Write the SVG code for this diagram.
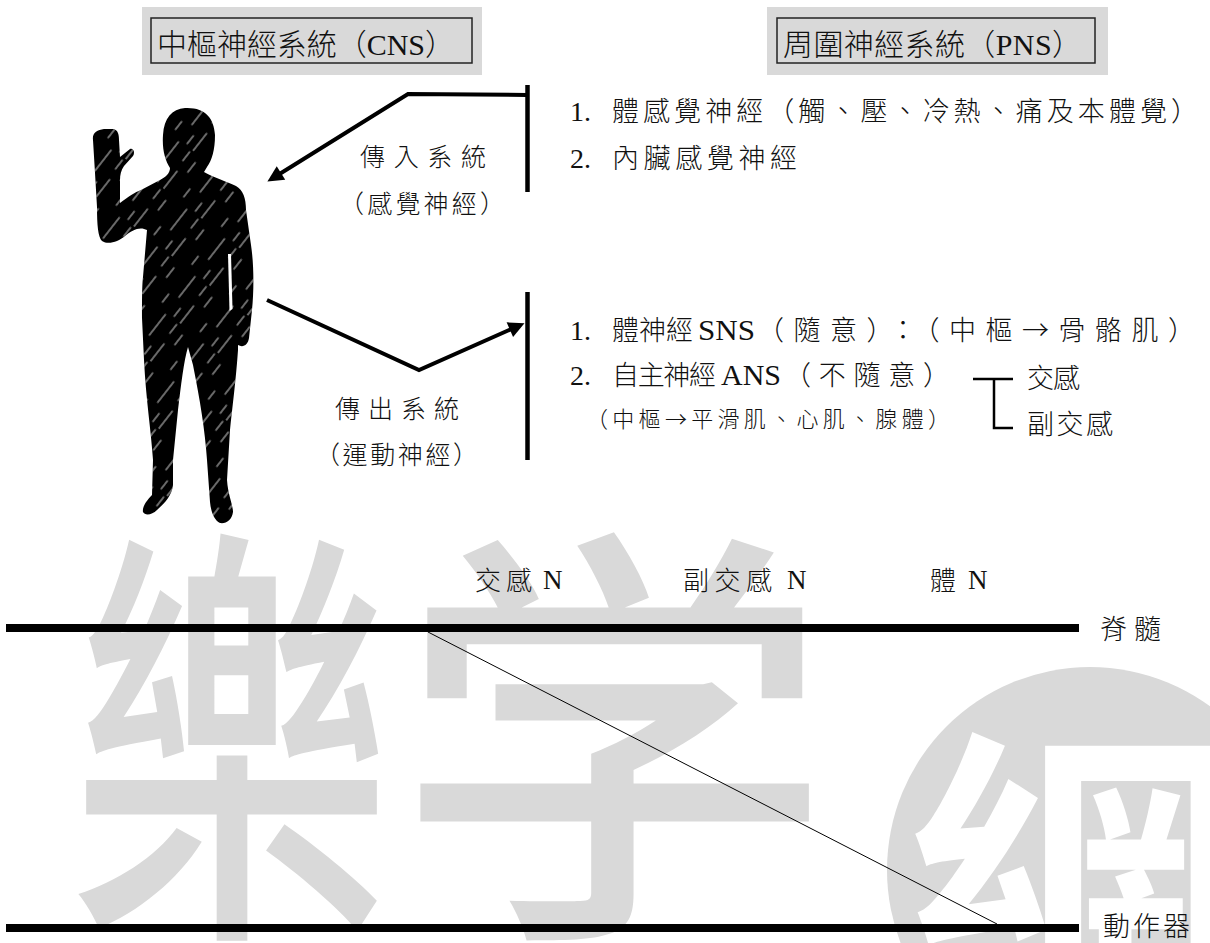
<svg xmlns="http://www.w3.org/2000/svg" width="1210" height="943" viewBox="0 0 1210 943">
  <style>
    .t { font-family: "Liberation Serif", "Noto Sans CJK TC", serif; fill: #111; font-weight: 300; }
    .cj { font-family: "Noto Sans CJK TC", sans-serif; fill: #111; font-weight: 300; }
    .lat { font-family: "Liberation Serif", serif; fill: #111; }
    .wm { font-family: "Noto Sans CJK TC", "Noto Sans CJK SC", sans-serif; fill: #d9d9d9; font-weight: 500; }
    .hdr-bg { fill: #d9d9d9; }
    .hdr-box { fill: none; stroke: #222; stroke-width: 1.5; }
    .bar { stroke: #000; stroke-width: 4.5; fill: none; }
    .conn { stroke: #000; stroke-width: 4; fill: none; stroke-linejoin: miter; }
    .rail { fill: #000; }
    .bracket { stroke: #000; stroke-width: 2.5; fill: none; }
  </style>
  <defs>
    <marker id="ah" viewBox="0 0 10 10" refX="5.5" refY="5" markerWidth="5.5" markerHeight="4" orient="auto" markerUnits="strokeWidth">
      <path d="M0 0 L10 5 L0 10 z" fill="#000"/>
    </marker>
    <!-- chalky diagonal streaks laid over the silhouette -->
    <pattern id="chalk" width="48" height="48" patternUnits="userSpaceOnUse" patternTransform="rotate(-52)">
      <path d="M0 5 H22 M28 14 H40 M6 26 H16 M20 36 H46 M2 44 H12 M34 3 H45" stroke="#fff" stroke-width="1.5" stroke-linecap="round" opacity="0.55"/>
    </pattern>
    <!-- standing figure outline, raised right hand -->
    <path id="figure" d="M93 140 C92 133 97 130 104 129 L113 129 C118 130 119 134 119 140 L120 157 L130 149 C134 148 135 153 133 156 L124 166 C121 170 120 175 120 180 L120 203 C128 197 135 192 141 190 L160 180 C166 177 170 173 170 168 C165 160 162 150 163 135 C164 118 172 109 185 108 C205 107 214 118 215 135 C215 150 212 160 207 167 L204 172 C215 178 228 182 236 186 C243 190 246 198 246 210 L251 245 C254 265 254 290 252 310 L249 338 C248 345 243 348 238 345 L238 350 C236 380 232 410 230 430 L227 480 C228 495 233 505 233 512 C232 520 226 524 220 523 C214 520 211 512 210 502 L207 460 C205 430 200 400 193 365 L188 347 C184 360 181 385 178 410 L173 460 L173 485 C172 495 165 503 157 510 C152 515 145 516 143 512 C142 507 147 500 152 495 L153 460 C151 430 146 400 144 360 L142 318 C142 300 142 285 143 277 L147 230 C140 226 132 230 125 236 C118 242 108 245 102 241 C98 237 97 225 97 207 L95 173 Z"/>
  </defs>

  <rect width="1210" height="943" fill="#fff"/>

  <!-- background watermark -->
  <g id="watermark">
    <text class="wm" transform="translate(70 905) scale(0.85 1.15)" font-size="380">樂</text>
    <text class="wm" transform="translate(395 905) scale(1.15 1.15)" font-size="380" style="font-family:'Noto Sans CJK SC',sans-serif">学</text>
    <circle cx="1090" cy="870" r="203" fill="#d9d9d9"/>
    <text transform="translate(905 1020)" font-size="340" style="font-family:'Noto Sans CJK TC',sans-serif;font-weight:700;fill:#fff">網</text>
  </g>

  <!-- header boxes -->
  <g id="cns-header">
    <rect class="hdr-bg" x="142" y="7" width="340" height="68"/>
    <rect class="hdr-box" x="151" y="18" width="321" height="45"/>
    <text class="t" x="157" y="55" font-size="30" textLength="298" lengthAdjust="spacing">中樞神經系統（CNS）</text>
  </g>
  <g id="pns-header">
    <rect class="hdr-bg" x="767" y="7" width="341" height="68"/>
    <rect class="hdr-box" x="777" y="18" width="318" height="45"/>
    <text class="t" x="783" y="55" font-size="30" textLength="299" lengthAdjust="spacing">周圍神經系統（PNS）</text>
  </g>

  <!-- human silhouette -->
  <g id="body">
    <use href="#figure" fill="#000"/>
    <use href="#figure" fill="url(#chalk)"/>
    <path d="M228 254 L231 254 L232.5 309 L229.5 311 Z" fill="#fff"/>
  </g>

  <!-- connectors -->
  <g id="connectors">
    <line class="bar" x1="527.5" y1="85" x2="527.5" y2="192"/>
    <line class="bar" x1="527.5" y1="292" x2="527.5" y2="460"/>
    <polyline class="conn" points="527,95 408,94 273.5,177.7" marker-end="url(#ah)"/>
    <polyline class="conn" points="267,300 419,370 517.9,326.1" marker-end="url(#ah)"/>
    <polyline class="bracket" points="973,379 1013,379"/>
    <polyline class="bracket" points="994,379 994,428 1013,428"/>
    <rect class="rail" x="6" y="624" width="1073" height="8"/>
    <rect class="rail" x="6" y="924" width="1073" height="8"/>
    <line x1="428" y1="632" x2="997" y2="924" stroke="#000" stroke-width="1"/>
  </g>

  <!-- afferent / efferent labels -->
  <g id="afferent-label">
    <text class="t" x="360" y="166" font-size="25" textLength="126" lengthAdjust="spacing">傳入系統</text>
    <text class="t" x="339" y="213" font-size="25" textLength="166" lengthAdjust="spacing">（感覺神經）</text>
  </g>
  <g id="efferent-label">
    <text class="t" x="335" y="418" font-size="25" textLength="124" lengthAdjust="spacing">傳出系統</text>
    <text class="t" x="315" y="464" font-size="25" textLength="163" lengthAdjust="spacing">（運動神經）</text>
  </g>

  <!-- sensory list -->
  <g id="sensory-list">
    <text class="lat" x="570" y="121" font-size="28">1.</text>
    <text class="t" x="612" y="121" font-size="27" textLength="586" lengthAdjust="spacing">體感覺神經（觸、壓、冷熱、痛及本體覺）</text>
    <text class="lat" x="570" y="168" font-size="28">2.</text>
    <text class="t" x="612" y="168" font-size="27" textLength="185" lengthAdjust="spacing">內臟感覺神經</text>
  </g>

  <!-- motor list -->
  <g id="motor-list">
    <text class="lat" x="570" y="340" font-size="28">1.</text>
    <text class="t" x="612" y="340" font-size="27" textLength="81" lengthAdjust="spacing">體神經</text>
    <text class="lat" x="698" y="340" font-size="30" textLength="57" lengthAdjust="spacingAndGlyphs">SNS</text>
    <text class="cj" x="757" y="340" font-size="27" textLength="438" lengthAdjust="spacing">（隨意）：（中樞→骨骼肌）</text>
    <text class="lat" x="570" y="385" font-size="28">2.</text>
    <text class="t" x="612" y="385" font-size="27" textLength="104" lengthAdjust="spacing">自主神經</text>
    <text class="lat" x="721" y="385" font-size="30" textLength="60" lengthAdjust="spacingAndGlyphs">ANS</text>
    <text class="t" x="784" y="385" font-size="27" textLength="166" lengthAdjust="spacing">（不隨意）</text>
    <text class="cj" x="586" y="427" font-size="22" textLength="364" lengthAdjust="spacing">（中樞→平滑肌、心肌、腺體）</text>
    <text class="t" x="1027" y="388" font-size="27" textLength="53" lengthAdjust="spacing">交感</text>
    <text class="t" x="1027" y="434" font-size="27" textLength="86" lengthAdjust="spacing">副交感</text>
  </g>

  <!-- nerve pathway labels -->
  <g id="pathway-labels">
    <text class="t" x="475" y="590" font-size="26" textLength="57" lengthAdjust="spacing">交感</text>
    <text class="lat" x="543" y="589" font-size="27">N</text>
    <text class="t" x="683" y="590" font-size="26" textLength="89" lengthAdjust="spacing">副交感</text>
    <text class="lat" x="787" y="589" font-size="27">N</text>
    <text class="t" x="930" y="590" font-size="26">體</text>
    <text class="lat" x="968" y="589" font-size="27">N</text>
    <text class="t" x="1100" y="639" font-size="27" textLength="61" lengthAdjust="spacing">脊髓</text>
    <text class="t" x="1103" y="936" font-size="27" textLength="87" lengthAdjust="spacing">動作器</text>
  </g>
</svg>
